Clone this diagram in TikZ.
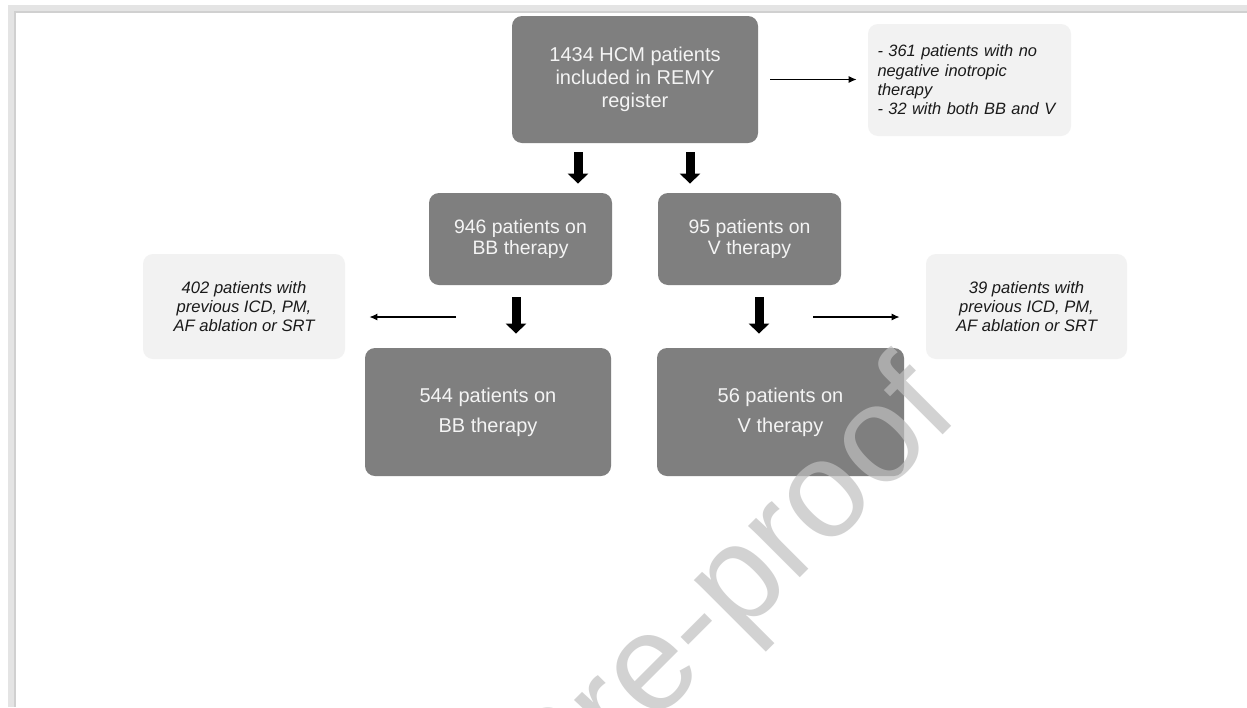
\documentclass[tikz,border=0pt]{standalone}
\usepackage{fontspec}
\setmainfont{Liberation Sans}
\usetikzlibrary{arrows.meta,calc}
\definecolor{boxdark}{HTML}{7F7F7F}
\definecolor{boxlight}{HTML}{F2F2F2}
\definecolor{wmgray}{HTML}{BFBFBF}
\definecolor{frameg}{HTML}{E4E4E4}
\definecolor{frameshadow}{HTML}{D0D0D0}
\definecolor{darktext}{HTML}{F4F4F4}
\definecolor{notetext}{HTML}{1A1A1A}
\begin{document}
\begin{tikzpicture}[x=0.5pt,y=-0.5pt,
  darkbox/.style={rectangle, rounded corners=5pt, fill=boxdark, text=darktext, inner sep=0pt, align=center},
  lightbox/.style={rectangle, rounded corners=5pt, fill=boxlight, text=notetext, inner sep=0pt,
     font=\itshape\fontsize{8.3}{9.6}\selectfont},
  bigarrow/.style={line width=4.5pt, -{Triangle[length=5pt,width=10pt]}, black},
  thinarrow/.style={line width=0.6pt, -{Latex[length=4pt,width=3.5pt]}, black}]
\useasboundingbox (0,0) rectangle (1247,707);
% page frame
\fill[frameg] (8,5) rectangle (1247,707);
\fill[frameshadow] (14,11) rectangle (1247,707);
\fill[white] (16,13) rectangle (1247,707);

% boxes
\node[darkbox, minimum width=123pt, minimum height=63.5pt,
      font=\fontsize{10}{11.5}\selectfont] (main) at (635,79.5)
  {1434 HCM patients\\included in REMY\\register};
\node[lightbox, minimum width=101.5pt, minimum height=56pt, text width=92pt, align=left,
      font=\itshape\fontsize{8.2}{9.7}\selectfont] (note1) at (969.5,80)
  {- 361 patients with no\\negative inotropic\\therapy\\- 32 with both BB and V};
\node[darkbox, minimum width=91.5pt, minimum height=46pt,
      font=\fontsize{9.7}{10.5}\selectfont] (bb1) at (520.5,239)
  {946 patients on\\BB therapy};
\node[darkbox, minimum width=91.5pt, minimum height=46pt,
      font=\fontsize{9.7}{10.5}\selectfont] (v1) at (749.5,239)
  {95 patients on\\V therapy};
\node[darkbox, minimum width=123pt, minimum height=64pt,
      font=\fontsize{10}{15}\selectfont] (bb2) at (488,412)
  {544 patients on\\BB therapy};
\node[darkbox, minimum width=123.5pt, minimum height=64pt,
      font=\fontsize{10}{15}\selectfont] (v2) at (780.5,412)
  {56 patients on\\V therapy};
\node[lightbox, minimum width=101pt, minimum height=52.5pt, align=center] (note2) at (244,306.5)
  {402 patients with\\previous ICD, PM,\\AF ablation or SRT};
\node[lightbox, minimum width=100.5pt, minimum height=52.5pt, align=center] (note3) at (1026.5,306.5)
  {39 patients with\\previous ICD, PM,\\AF ablation or SRT};

% thick arrows
\coordinate (a1) at (578,143);
\coordinate (a2) at (690,143);
\draw[bigarrow, shorten <=4.5pt, shorten >=4.5pt] (a1) -- (a1 |- bb1.north);
\draw[bigarrow, shorten <=4.5pt, shorten >=4.5pt] (a2) -- (a2 |- v1.north);
\coordinate (a3) at (516,285);
\coordinate (a4) at (759,285);
\draw[bigarrow, shorten <=6pt, shorten >=7pt] (a3) -- (a3 |- bb2.north);
\draw[bigarrow, shorten <=6pt, shorten >=7pt] (a4) -- (a4 |- v2.north);

% thin arrows
\draw[thinarrow, shorten <=6pt, shorten >=5.5pt] (main.east) -- (main.east -| note1.west);
\coordinate (l1) at (456,317);
\draw[thinarrow, shorten >=12pt] (l1) -- (l1 -| note2.east);
\coordinate (r1) at (813,317);
\draw[thinarrow, shorten >=13pt] (r1) -- (r1 -| note3.west);

% watermark
\begin{scope}
\clip (0,0) rectangle (1247,707);
\node[font=\fontsize{69}{69}\selectfont, text=wmgray, text opacity=0.7, rotate=45,
      anchor=base east, inner sep=0pt] (wmk) at (962,416) {Journal Pre-proof};
\end{scope}
\end{tikzpicture}
\end{document}
